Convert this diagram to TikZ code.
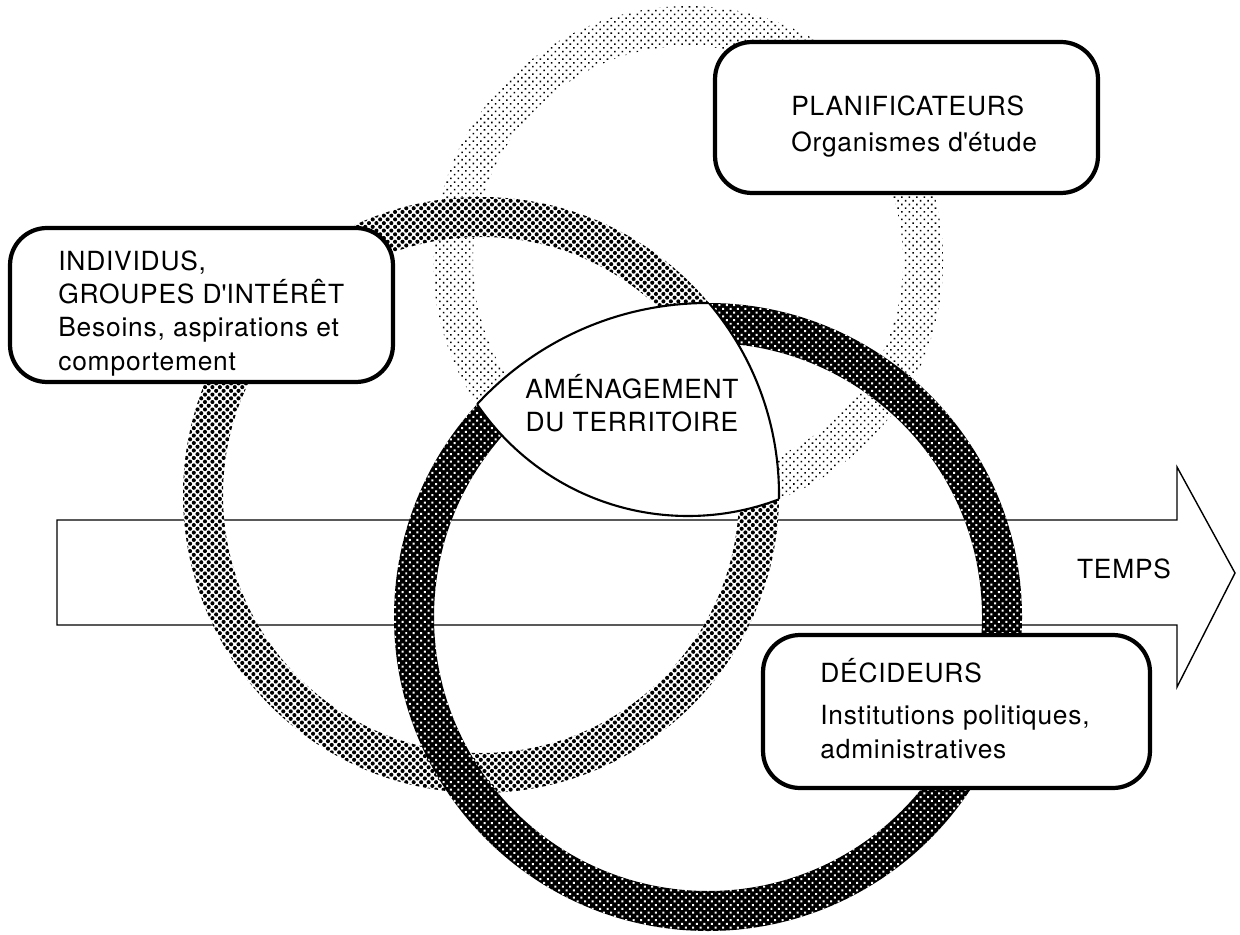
\documentclass[tikz,border=0pt]{standalone}
\usepackage{fontspec}
\setmainfont{TeX Gyre Heros}[LetterSpace=3]
\usetikzlibrary{patterns.meta}

% halftone screens for the three rings
\tikzdeclarepattern{
  name=lightdots,
  type=uncolored,
  bounding box={(-1.5pt,-1.5pt) and (1.5pt,1.5pt)},
  tile size={(3pt,3pt)},
  tile transformation={rotate=45},
  code={\fill (0pt,0pt) circle (0.62pt);}
}
\tikzdeclarepattern{
  name=middots,
  type=uncolored,
  bounding box={(-1.5pt,-1.5pt) and (1.5pt,1.5pt)},
  tile size={(3pt,3pt)},
  tile transformation={rotate=45},
  code={\fill (0pt,0pt) circle (1.17pt);}
}
\tikzdeclarepattern{
  name=darkdots,
  type=uncolored,
  bounding box={(-1.5pt,-1.5pt) and (1.5pt,1.5pt)},
  tile size={(3pt,3pt)},
  tile transformation={rotate=45},
  code={\fill (0pt,0pt) circle (0.8pt);}
}

\begin{document}
\begin{tikzpicture}[x=0.02cm, y=-0.02cm,
    every node/.style={font=\fontsize{15}{19}\selectfont, inner sep=0pt},
    actorbox/.style={draw, line width=2.4pt, rounded corners=21pt, fill=white},
    edge/.style={line width=1.2pt},
    ring/.style={even odd rule}]
    \path[use as bounding box, fill=white] (0,0) rectangle (1240,935);

    % centres of the rings
    \coordinate (L) at (688,261);
    \coordinate (M) at (481,495);
    \coordinate (D) at (708,617);

    % time arrow
    \draw[line width=0.8pt, line join=miter] (57,520) -- (1177,520) -- (1177,467)
        -- (1235,573) -- (1177,687) -- (1177,625) -- (57,625) -- cycle;

    % rings
    \fill[ring, pattern=lightdots] (L) circle (255) circle (215);
    \fill[ring, white] (M) circle (298) circle (258);
    \fill[ring, pattern=middots] (M) circle (298) circle (258);
    \fill[ring, black] (D) circle (314) circle (274);
    \fill[ring, pattern=darkdots, pattern color=white] (D) circle (314) circle (274);

    % common part of the three discs
    \begin{scope}
        \clip (L) circle (255);
        \clip (M) circle (298);
        \fill[white] (D) circle (314);
    \end{scope}
    \begin{scope}
        \clip (M) circle (298);
        \clip (D) circle (314);
        \draw[edge] (L) circle (255);
    \end{scope}
    \begin{scope}
        \clip (L) circle (255);
        \clip (D) circle (314);
        \draw[edge] (M) circle (298);
    \end{scope}
    \begin{scope}
        \clip (L) circle (255);
        \clip (M) circle (298);
        \draw[edge] (D) circle (314);
    \end{scope}
    \node[align=center] (amenag) at (632,403) {AMÉNAGEMENT\\ DU TERRITOIRE};
    \node (temps) at (1124,569) {TEMPS};

    % actors
    \node[actorbox, minimum width=7.66cm, minimum height=3.02cm] (plan) at (906.5,117.5) {};
    \node[anchor=north west, align=left] (plantext) at (791,95)
        {PLANIFICATEURS\\[2pt] Organismes d\textquotesingle étude};
    \node[actorbox, minimum width=7.66cm, minimum height=3.08cm] (indiv) at (201.5,305) {};
    \node[anchor=north west, align=left] (indivtext) at (58,250)
        {INDIVIDUS,\\ GROUPES D\textquotesingle INTÉRÊT\\ Besoins, aspirations et\\ comportement};
    \node[actorbox, minimum width=7.74cm, minimum height=3.06cm] (decid) at (956.5,711.5) {};
    \node[anchor=north west, align=left] (decidtext) at (820,658)
        {DÉCIDEURS\\[5pt] Institutions politiques,\\ administratives};
\end{tikzpicture}
\end{document}
